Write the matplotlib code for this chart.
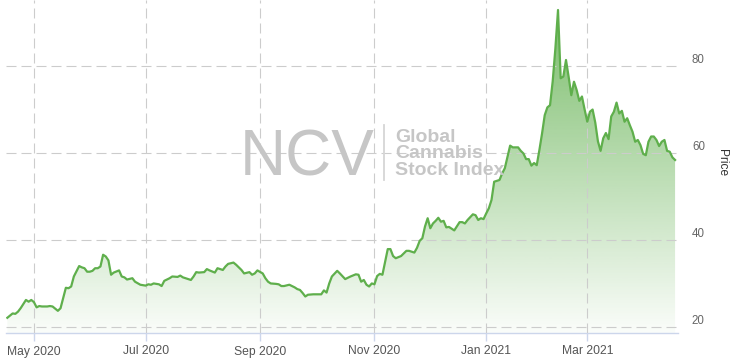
import numpy as np
import matplotlib
matplotlib.use('Agg')
import matplotlib.pyplot as plt
from matplotlib.colors import to_rgb

plt.rcParams['font.family'] = ['Liberation Sans', 'DejaVu Sans']
plt.rcParams['lines.scale_dashes'] = False

# market holidays (the x axis only counts trading days)
HOLIDAYS = ['2020-05-25', '2020-07-03', '2020-09-07', '2020-11-26', '2020-12-25',
            '2021-01-01', '2021-01-18', '2021-02-15', '2021-04-02']

dates = [
    '2020-04-17', '2020-04-21', '2020-04-22', '2020-04-23', '2020-04-24', '2020-04-28',
    '2020-04-29', '2020-04-30', '2020-05-01', '2020-05-04', '2020-05-05', '2020-05-06',
    '2020-05-08', '2020-05-11', '2020-05-12', '2020-05-14', '2020-05-15', '2020-05-19',
    '2020-05-20', '2020-05-21', '2020-05-22', '2020-05-27', '2020-05-28', '2020-05-29',
    '2020-06-01', '2020-06-02', '2020-06-03', '2020-06-04', '2020-06-05', '2020-06-08',
    '2020-06-09', '2020-06-10', '2020-06-11', '2020-06-12', '2020-06-15', '2020-06-17',
    '2020-06-18', '2020-06-19', '2020-06-22', '2020-06-24', '2020-06-25', '2020-06-29',
    '2020-07-01', '2020-07-02', '2020-07-06', '2020-07-07', '2020-07-09', '2020-07-10',
    '2020-07-13', '2020-07-15', '2020-07-16', '2020-07-20', '2020-07-21', '2020-07-22',
    '2020-07-23', '2020-07-27', '2020-07-28', '2020-07-29', '2020-07-30', '2020-08-03',
    '2020-08-04', '2020-08-05', '2020-08-07', '2020-08-10', '2020-08-12', '2020-08-13',
    '2020-08-14', '2020-08-18', '2020-08-19', '2020-08-21', '2020-08-24', '2020-08-26',
    '2020-08-27', '2020-08-28', '2020-08-31', '2020-09-02', '2020-09-03', '2020-09-04',
    '2020-09-08', '2020-09-10', '2020-09-11', '2020-09-14', '2020-09-15', '2020-09-17',
    '2020-09-21', '2020-09-22', '2020-09-23', '2020-09-24', '2020-09-25', '2020-09-28',
    '2020-09-30', '2020-10-01', '2020-10-05', '2020-10-06', '2020-10-07', '2020-10-08',
    '2020-10-09', '2020-10-13', '2020-10-14', '2020-10-16', '2020-10-20', '2020-10-22',
    '2020-10-23', '2020-10-26', '2020-10-27', '2020-10-28', '2020-10-29', '2020-10-30',
    '2020-11-02', '2020-11-03', '2020-11-04', '2020-11-05', '2020-11-09', '2020-11-10',
    '2020-11-11', '2020-11-12', '2020-11-16', '2020-11-17', '2020-11-18', '2020-11-19',
    '2020-11-23', '2020-11-24', '2020-11-25', '2020-11-27', '2020-11-30', '2020-12-01',
    '2020-12-02', '2020-12-03', '2020-12-04', '2020-12-07', '2020-12-08', '2020-12-09',
    '2020-12-10', '2020-12-11', '2020-12-15', '2020-12-17', '2020-12-18', '2020-12-21',
    '2020-12-22', '2020-12-24', '2020-12-28', '2020-12-29', '2020-12-30', '2020-12-31',
    '2021-01-04', '2021-01-05', '2021-01-06', '2021-01-07', '2021-01-11', '2021-01-12',
    '2021-01-13', '2021-01-15', '2021-01-19', '2021-01-21', '2021-01-22', '2021-01-25',
    '2021-01-26', '2021-01-27', '2021-01-28', '2021-01-29', '2021-02-01', '2021-02-02',
    '2021-02-03', '2021-02-04', '2021-02-05', '2021-02-08', '2021-02-09', '2021-02-10',
    '2021-02-11', '2021-02-12', '2021-02-16', '2021-02-17', '2021-02-18', '2021-02-19',
    '2021-02-22', '2021-02-23', '2021-02-24', '2021-02-25', '2021-02-26', '2021-03-01',
    '2021-03-02', '2021-03-03', '2021-03-04', '2021-03-05', '2021-03-08', '2021-03-09',
    '2021-03-10', '2021-03-11', '2021-03-12', '2021-03-15', '2021-03-16', '2021-03-17',
    '2021-03-18', '2021-03-19', '2021-03-22', '2021-03-23', '2021-03-24', '2021-03-25',
    '2021-03-26', '2021-03-29', '2021-03-30', '2021-03-31', '2021-04-01', '2021-04-05',
    '2021-04-06', '2021-04-07', '2021-04-08', '2021-04-09', '2021-04-12', '2021-04-13',
    '2021-04-14', '2021-04-15', '2021-04-16',
]

price = [
    22.1, 23.1, 23.0, 23.5, 24.3, 26.2, 25.8, 26.2, 25.7, 24.5, 24.8, 24.7,
    24.7, 24.8, 24.7, 23.7, 24.3, 29.0, 28.9, 29.3, 31.6, 34.0, 33.7, 33.5,
    32.7, 32.7, 32.9, 33.5, 33.5, 33.9, 36.6, 36.2, 35.3, 32.0, 32.5, 33.0,
    31.6, 31.4, 30.9, 31.2, 30.4, 29.7, 29.5, 29.8, 29.7, 30.0, 29.8, 29.4,
    30.6, 31.2, 31.6, 31.5, 31.8, 31.4, 31.2, 30.8, 31.6, 32.6, 32.5, 32.6,
    33.3, 33.0, 32.5, 33.5, 33.1, 33.9, 34.5, 34.8, 34.3, 33.1, 32.3, 32.6,
    32.0, 32.3, 33.0, 32.3, 31.2, 30.4, 30.0, 29.9, 29.8, 29.4, 29.4, 29.7,
    29.1, 28.7, 28.5, 27.8, 27.0, 27.4, 27.5, 27.5, 27.5, 28.4, 27.9, 30.0,
    31.6, 32.9, 32.3, 31.0, 31.6, 32.1, 32.0, 30.4, 30.8, 29.7, 29.3, 30.0,
    29.8, 31.7, 32.2, 32.0, 37.9, 37.9, 36.3, 35.8, 36.3, 36.9, 37.5, 37.5,
    37.1, 38.2, 39.8, 40.4, 43.1, 45.0, 42.7, 43.8, 44.4, 45.1, 44.2, 44.4,
    42.9, 43.0, 42.2, 44.1, 44.1, 43.8, 44.6, 45.9, 45.7, 44.6, 45.0, 44.8,
    46.1, 47.3, 49.2, 53.4, 53.8, 55.3, 56.5, 61.7, 61.3, 61.3, 60.5, 59.9,
    58.6, 58.6, 57.1, 57.7, 57.2, 60.7, 64.5, 68.7, 70.5, 71.0, 76.5, 84.0,
    92.9, 77.2, 77.6, 81.4, 77.5, 73.3, 76.4, 74.5, 72.0, 73.0, 70.0, 67.2,
    69.5, 70.0, 67.0, 62.7, 60.5, 63.4, 64.6, 63.2, 68.4, 69.5, 71.6, 69.1,
    69.7, 67.2, 68.0, 66.4, 64.9, 62.6, 63.0, 61.8, 59.8, 59.5, 62.6, 63.8,
    63.8, 63.0, 61.6, 62.6, 63.0, 60.5, 60.3, 59.0, 58.4,
]

month_starts = ['2020-05-01', '2020-07-01', '2020-09-01', '2020-11-01', '2021-01-01', '2021-03-01']
month_labels = ['May 2020', 'Jul 2020', 'Sep 2020', 'Nov 2020', 'Jan 2021', 'Mar 2021']
y_ticks = [20, 40, 60, 80]

LINE = '#5faf4c'
Y0, Y1 = 18.6, 95.2

# ordinal axis: position = number of trading days since the first point
d = np.array(dates, dtype='datetime64[D]')
x = np.busday_count(d[0], d, holidays=HOLIDAYS)
first_days = np.busday_offset(np.array(month_starts, dtype='datetime64[D]'), 0,
                              roll='forward', holidays=HOLIDAYS)
xt = np.busday_count(d[0], first_days, holidays=HOLIDAYS)

fig = plt.figure(figsize=(7.32, 3.59), dpi=100)
ax = fig.add_axes([6 / 732, 26 / 359, 672 / 732, 333 / 359])
X0, X1 = -0.5, 252.1
ax.set_xlim(X0, X1)
ax.set_ylim(Y0, Y1)

# gradient area under the line
area = ax.fill_between(x, price, Y0, color='none', lw=0)
grad = np.zeros((256, 1, 4))
grad[:, 0, :3] = to_rgb(LINE)
grad[:, 0, 3] = np.linspace(0.85, 0.03, 256)
im = ax.imshow(grad, extent=[X0, X1, Y0, Y1], aspect='auto', origin='upper', zorder=1)
im.set_clip_path(area.get_paths()[0], transform=ax.transData)

ax.plot(x, price, color=LINE, lw=1.6, zorder=3, solid_joinstyle='round')

ax.set_xticks(xt, month_labels)
ax.set_yticks(y_ticks)
ax.grid(True, color='#cccccc', lw=0.8, linestyle=(0, (7.2, 3.6)))
ax.set_axisbelow(False)

for s in ['left', 'top', 'right']:
    ax.spines[s].set_visible(False)
ax.spines['bottom'].set_color('#ccd6eb')
ax.spines['bottom'].set_linewidth(1)

ax.tick_params(axis='x', length=6, width=1, color='#ccd6eb', labelsize=8.7,
               labelcolor='#555555', pad=3)
ax.yaxis.tick_right()
ax.tick_params(axis='y', length=0, labelsize=8.3, labelcolor='#666666', pad=10)
for lab in ax.get_yticklabels():
    lab.set_va('bottom')

fig.text(722 / 732, (359 - 163) / 359, 'Price', rotation=270, ha='center', va='center',
         fontsize=8.6, color='#333333')

# watermark
wm = '#c6c6c6'
fig.text(307.5 / 732, (359 - 175) / 359, 'NCV', ha='center', va='baseline',
         fontsize=46, color=wm)
fig.add_artist(plt.Line2D([384 / 732, 384 / 732], [(359 - 180) / 359, (359 - 125) / 359],
                          color='#d6d6d6', lw=1.3))
for i, word in enumerate(['Global', 'Cannabis', 'Stock Index']):
    fig.text(395 / 732, (359 - 141.5 - 17 * i) / 359, word, ha='left', va='baseline',
             fontsize=14, fontweight='bold', color=wm)

fig.savefig('out.png', dpi=100)
